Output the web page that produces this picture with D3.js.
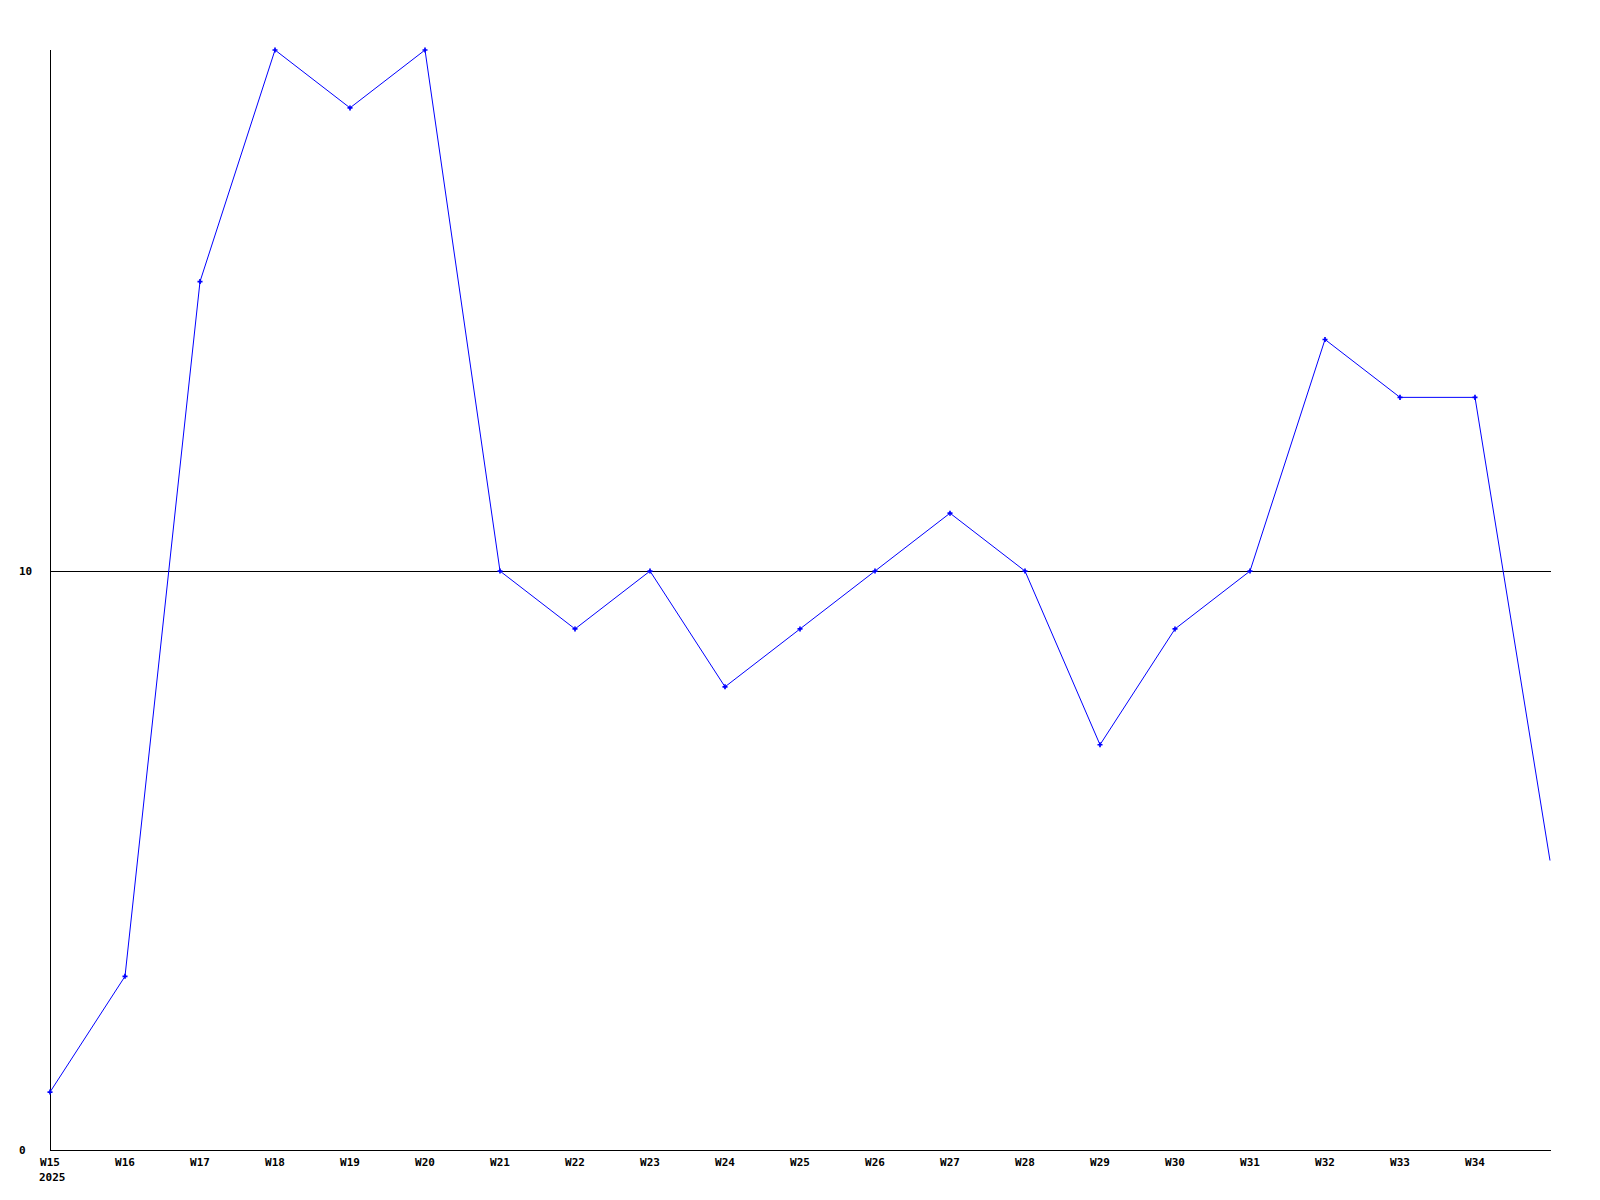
<!DOCTYPE html>
<html>
<head>
<meta charset="utf-8">
<script src="https://cdn.jsdelivr.net/npm/d3@7"></script>
<style>
  html, body { margin: 0; padding: 0; background: #fff; }
  svg { display: block; }
  text { font-family: "DejaVu Sans Mono", "Liberation Mono", monospace; font-weight: bold; font-size: 11px; fill: #000; }
</style>
</head>
<body>
<script>
const weeks = ["W15","W16","W17","W18","W19","W20","W21","W22","W23","W24","W25","W26","W27","W28","W29","W30","W31","W32","W33","W34","W35"];
const values = [1,3,15,19,18,19,10,9,10,8,9,10,11,10,7,9,10,14,13,13,5];
const tickLabels = ["W15","W16","W17","W18","W19","W20","W21","W22","W23","W24","W25","W26","W27","W28","W29","W30","W31","W32","W33","W34"];
const yearLabel = "2025";
const yTicks = [0, 10];
const yMax = 19;

const W = 1600, H = 1200;
const svg = d3.select("body").append("svg").attr("width", W).attr("height", H);

const x = d3.scaleLinear().domain([0, weeks.length - 1]).range([50, 1550]);
const y = d3.scaleLinear().domain([0, yMax]).range([1150, 50]);

// gridline at 10
svg.selectAll("line.grid").data(yTicks.filter(d => d > 0)).enter().append("line")
  .attr("x1", x(0)).attr("x2", x(weeks.length - 1) + 1)
  .attr("y1", d => Math.round(y(d)) + 0.5).attr("y2", d => Math.round(y(d)) + 0.5)
  .attr("stroke", "#000").attr("stroke-width", 1).attr("shape-rendering", "crispEdges");

// axes lines
svg.append("line").attr("x1", x(0) + 0.5).attr("x2", x(0) + 0.5)
  .attr("y1", y(yMax)).attr("y2", y(0) + 1)
  .attr("stroke", "#000").attr("shape-rendering", "crispEdges");
svg.append("line").attr("x1", x(0)).attr("x2", x(weeks.length - 1) + 1)
  .attr("y1", y(0) + 0.5).attr("y2", y(0) + 0.5)
  .attr("stroke", "#000").attr("shape-rendering", "crispEdges");

// y tick labels
svg.selectAll("text.ylab").data(yTicks).enter().append("text")
  .attr("x", 19).attr("y", d => y(d)).attr("dy", "0.35em")
  .text(d => d);

// x tick labels
svg.selectAll("text.xlab").data(tickLabels).enter().append("text")
  .attr("x", (d, i) => x(i)).attr("y", 1166).attr("text-anchor", "middle")
  .text(d => d);
svg.append("text").attr("x", x(0) - 11).attr("y", 1181).text(yearLabel);

// line
const line = d3.line().x((d, i) => x(i)).y(d => y(d));
svg.append("path").datum(values).attr("d", line)
  .attr("fill", "none").attr("stroke", "#0000ff").attr("stroke-width", 1);

// markers (all but the last)
svg.selectAll("path.mk").data(values.slice(0, values.length - 1)).enter().append("path")
  .attr("transform", (d, i) => `translate(${x(i)},${y(d)})`)
  .attr("d", d3.symbol().type(d3.symbolCross).size(14))
  .attr("fill", "#0000ff");
</script>
</body>
</html>
